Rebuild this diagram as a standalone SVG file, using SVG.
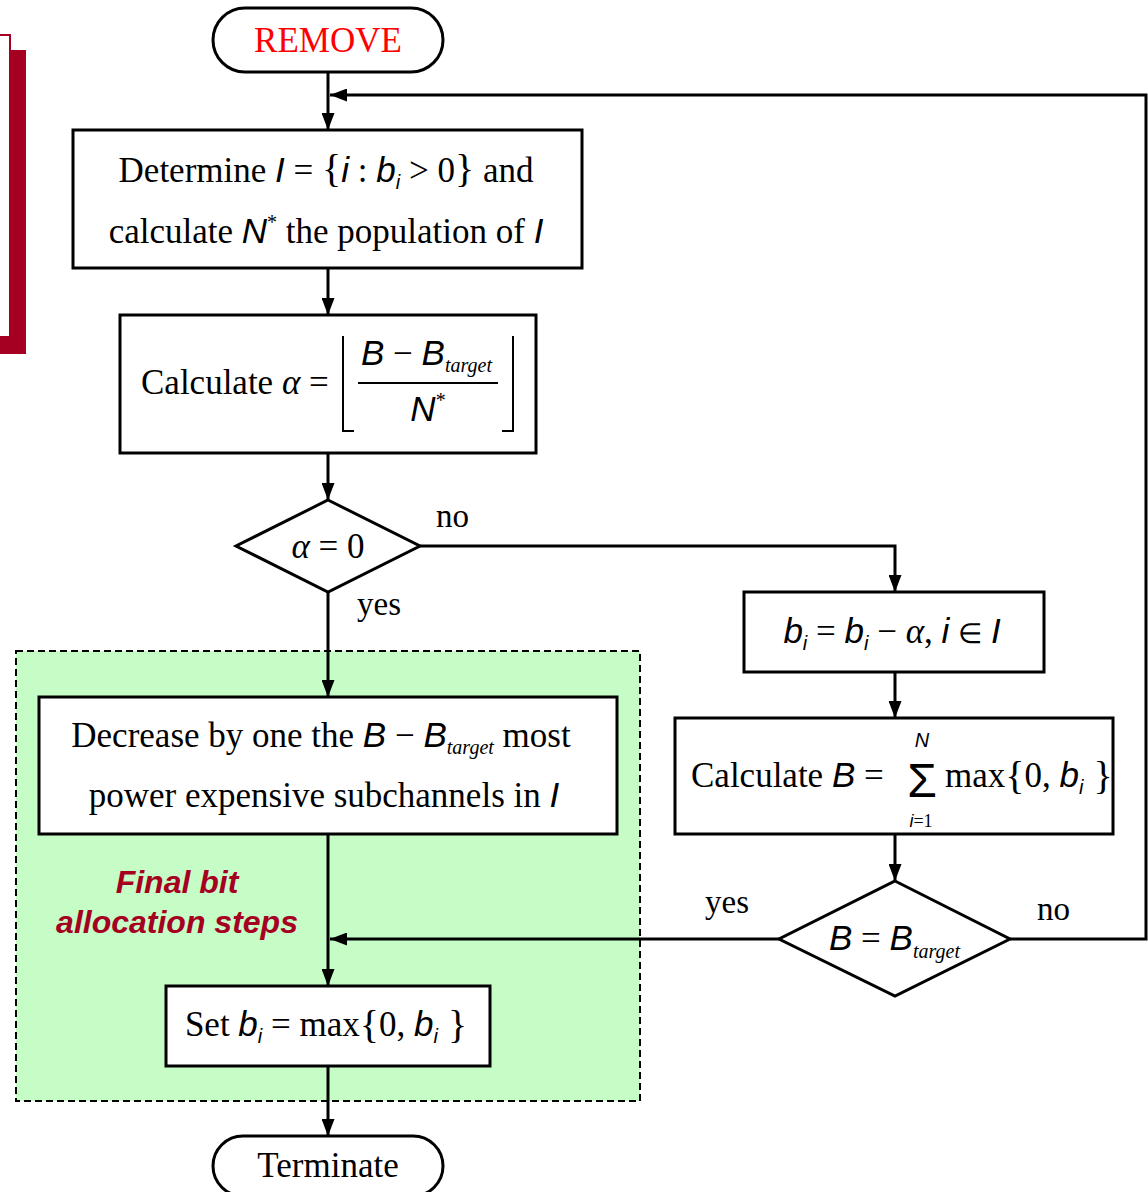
<svg xmlns="http://www.w3.org/2000/svg" width="1148" height="1192" viewBox="0 0 1148 1192">
<style>
.box{fill:#fff;stroke:#000;stroke-width:3}
.ln{fill:none;stroke:#000;stroke-width:3}
.t{font-family:"Liberation Serif",serif;font-size:35px;fill:#000}
.m{font-family:"Liberation Sans",sans-serif;font-style:italic}
.sub{font-family:"Liberation Sans",sans-serif;font-style:italic;font-size:20px}
.tg{font-family:"Liberation Serif",serif;font-style:italic;font-size:20px}
.gr{font-family:"Liberation Serif",serif;font-style:italic}
.lbl{font-family:"Liberation Serif",serif;font-size:33px;fill:#000}
</style>
<defs>
<marker id="ah" markerUnits="userSpaceOnUse" markerWidth="17" markerHeight="13" refX="17" refY="6.5" orient="auto">
<path d="M0,0 L17,6.5 L0,13 z" fill="#000"/>
</marker>
</defs>
<rect width="1148" height="1192" fill="#fff"/>
<g id="bracket">
<path d="M0,35 H10 V336" fill="none" stroke="#A50021" stroke-width="2"/>
<rect x="11" y="50" width="15" height="304" fill="#A50021"/>
<rect x="0" y="336" width="26" height="18" fill="#A50021"/>
</g>
<g id="final-steps-region">
<rect x="16" y="651" width="624" height="450" fill="#C6FCC6" stroke="#000" stroke-width="2" stroke-dasharray="7,4"/>
<text x="177" y="893" text-anchor="middle" font-family="Liberation Sans, sans-serif" font-weight="bold" font-style="italic" font-size="32" fill="#A50021">Final bit</text>
<text x="177" y="933" text-anchor="middle" font-family="Liberation Sans, sans-serif" font-weight="bold" font-style="italic" font-size="32" fill="#A50021">allocation steps</text>
</g>
<g id="connectors">
<path class="ln" d="M328,72 V130" marker-end="url(#ah)"/>
<path class="ln" d="M1010,939 H1146 V95 H330" marker-end="url(#ah)"/>
<path class="ln" d="M328,268 V315" marker-end="url(#ah)"/>
<path class="ln" d="M328,453 V500" marker-end="url(#ah)"/>
<path class="ln" d="M328,592 V697" marker-end="url(#ah)"/>
<path class="ln" d="M420,546 H895 V592" marker-end="url(#ah)"/>
<path class="ln" d="M895,672 V718" marker-end="url(#ah)"/>
<path class="ln" d="M895,834 V881" marker-end="url(#ah)"/>
<path class="ln" d="M779,939 H330" marker-end="url(#ah)"/>
<path class="ln" d="M328,834 V986" marker-end="url(#ah)"/>
<path class="ln" d="M328,1066 V1136" marker-end="url(#ah)"/>
<text class="lbl" x="436" y="527">no</text>
<text class="lbl" x="357" y="615">yes</text>
<text class="lbl" x="705" y="913">yes</text>
<text class="lbl" x="1037" y="920">no</text>
</g>
<g id="remove">
<rect class="box" x="213" y="8" width="230" height="64" rx="32"/>
<text class="t" x="328" y="52" text-anchor="middle" style="fill:#FF0000">REMOVE</text>
</g>
<g id="determine">
<rect class="box" x="73" y="130" width="509" height="138"/>
<text class="t" x="326" y="182" text-anchor="middle">Determine <tspan class="m">I</tspan> = <tspan font-size="40">{</tspan><tspan class="m">i</tspan> : <tspan class="m">b</tspan><tspan class="sub" dy="7">i</tspan><tspan dy="-7"> &gt; 0</tspan><tspan font-size="40">}</tspan> and</text>
<text class="t" x="326" y="243" text-anchor="middle">calculate <tspan class="m">N</tspan><tspan font-size="20" dy="-14">*</tspan><tspan dy="14"> the population of </tspan><tspan class="m">I</tspan></text>
</g>
<g id="calc-alpha">
<rect class="box" x="120" y="315" width="416" height="138"/>
<text class="t" x="141" y="394">Calculate <tspan class="gr">α</tspan> =</text>
<path d="M343,336 V431 H354 M513,336 V431 H502" fill="none" stroke="#000" stroke-width="2"/>
<path d="M358,383 H498" stroke="#000" stroke-width="2"/>
<text class="t" x="361" y="365"><tspan class="m">B</tspan> − <tspan class="m">B</tspan><tspan class="tg" dy="7">target</tspan></text>
<text class="t" x="428" y="421" text-anchor="middle"><tspan class="m">N</tspan><tspan font-size="20" dy="-14">*</tspan></text>
</g>
<g id="alpha-zero">
<path class="box" d="M328,500 L420,546 L328,592 L236,546 Z"/>
<text class="t" x="328" y="558" text-anchor="middle"><tspan class="gr">α</tspan> = 0</text>
</g>
<g id="update-b">
<rect class="box" x="744" y="592" width="300" height="80"/>
<text class="t" x="892" y="643" text-anchor="middle"><tspan class="m">b</tspan><tspan class="sub" dy="7">i</tspan><tspan dy="-7"> = </tspan><tspan class="m">b</tspan><tspan class="sub" dy="7">i</tspan><tspan dy="-7"> − </tspan><tspan class="gr">α</tspan>, <tspan class="m">i</tspan> <tspan font-size="28">∈</tspan> <tspan class="m">I</tspan></text>
</g>
<g id="calc-b">
<rect class="box" x="675" y="718" width="438" height="116"/>
<text class="t" x="691" y="787">Calculate  <tspan class="m">B</tspan> =</text>
<text x="922" y="797" text-anchor="middle" font-family="Liberation Sans, sans-serif" font-size="48">Σ</text>
<text x="922" y="747" text-anchor="middle" class="sub" font-size="18">N</text>
<text x="921" y="827" text-anchor="middle" font-family="Liberation Serif, serif" font-size="18"><tspan font-family="Liberation Sans, sans-serif" font-style="italic">i</tspan>=1</text>
<text class="t" x="945" y="787">max<tspan font-size="40" dy="2">{</tspan><tspan dy="-2">0, </tspan><tspan class="m">b</tspan><tspan class="sub" dy="7">i</tspan><tspan font-size="40" dy="-5"> }</tspan></text>
</g>
<g id="b-target">
<path class="box" d="M895,881 L1010,939 L895,996 L779,939 Z"/>
<text class="t" x="829" y="950"><tspan class="m">B</tspan> = <tspan class="m">B</tspan><tspan class="tg" dy="8">target</tspan></text>
</g>
<g id="decrease">
<rect class="box" x="39" y="697" width="578" height="137"/>
<text class="t" x="321" y="747" text-anchor="middle">Decrease by one the <tspan class="m">B</tspan> − <tspan class="m">B</tspan><tspan class="tg" dy="7">target</tspan><tspan dy="-7">  most</tspan></text>
<text class="t" x="324" y="807" text-anchor="middle">power expensive subchannels in <tspan class="m">I</tspan></text>
</g>
<g id="set-b">
<rect class="box" x="166" y="986" width="324" height="80"/>
<text class="t" x="326" y="1036" text-anchor="middle">Set <tspan class="m">b</tspan><tspan class="sub" dy="7">i</tspan><tspan dy="-7"> = max</tspan><tspan font-size="40" dy="2">{</tspan><tspan dy="-2">0, </tspan><tspan class="m">b</tspan><tspan class="sub" dy="7">i</tspan><tspan font-size="40" dy="-5"> }</tspan></text>
</g>
<g id="terminate">
<rect class="box" x="213" y="1136" width="230" height="60" rx="30"/>
<text class="t" x="328" y="1177" text-anchor="middle">Terminate</text>
</g>
</svg>
